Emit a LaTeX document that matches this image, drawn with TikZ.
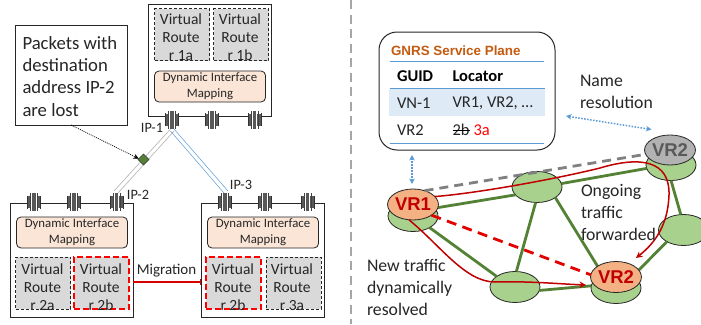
\documentclass[tikz,border=0pt]{standalone}
\usepackage{fontspec}
\setmainfont{Carlito}
\newfontfamily\arialf{Liberation Sans}
\usetikzlibrary{shapes.geometric,arrows.meta,calc}
\definecolor{vrgray}{HTML}{D9D9D9}
\definecolor{dimfill}{HTML}{FBE5D6}
\definecolor{grn}{HTML}{A9D18E}
\definecolor{grnline}{HTML}{548235}
\definecolor{orangef}{HTML}{F4B183}
\definecolor{darkred}{HTML}{C00000}
\definecolor{bl}{HTML}{5B9BD5}
\definecolor{band}{HTML}{DEEAF6}
\definecolor{ttl}{HTML}{C55A11}
\definecolor{txt}{HTML}{262626}
\tikzset{
 x=1pt,y=-1pt,
 every node/.style={text=txt,inner sep=0pt,outer sep=0pt},
 box/.style={draw=black!85,line width=1pt,fill=white,minimum width=123pt,minimum height=#1,anchor=north west},
 vroute/.style={draw=black!85,dash pattern=on 3pt off 2pt,line width=1pt,fill=vrgray,anchor=north west,minimum width=55pt,minimum height=52pt},
 vroutered/.style={draw=red,dash pattern=on 6pt off 3pt,line width=1.8pt,fill=vrgray,anchor=north west,minimum width=55pt,minimum height=52pt},
 vrtext/.style={font=\fontsize{15.5}{18}\selectfont,align=center,text=txt},
 dim/.style={draw=black!85,line width=0.8pt,fill=dimfill,rounded corners=4.5pt,minimum width=111pt,minimum height=31pt,font=\fontsize{12.8}{16}\selectfont,align=center,anchor=north west},
 lbl/.style={font=\fontsize{14.3}{16}\selectfont},
 side/.style={font=\fontsize{17.7}{22}\selectfont,align=left,anchor=west},
 cell/.style={font=\fontsize{16.5}{18}\selectfont,anchor=west},
 green/.style={ellipse,draw=black!85,line width=0.8pt,fill=grn,minimum width=50pt,minimum height=31pt},
 orangeN/.style={ellipse,draw=black!85,line width=0.8pt,fill=orangef,minimum width=50pt,minimum height=31pt,font=\arialf\bfseries\fontsize{18.5}{18}\selectfont,text=darkred},
 grayN/.style={ellipse,draw=black!85,line width=0.8pt,fill=black!30,minimum width=49pt,minimum height=30pt,font=\arialf\bfseries\fontsize{18.5}{18}\selectfont,text=black!65},
 link/.style={draw=grnline,line width=2.8pt},
 route/.style={draw=darkred,line width=1.5pt,-{Stealth[length=6.5pt,width=6.5pt]}},
 bluedot/.style={draw=bl,line width=1.5pt,dash pattern=on 1.5pt off 1.5pt,{Stealth[length=5.5pt,width=5.5pt]}-{Stealth[length=5.5pt,width=5.5pt]}},
 tband/.style={draw=bl,line width=0.9pt},
}
\newcommand{\portpic}[1]{%
 \fill[black!65] ($(#1)+(-6,-6)$) rectangle ($(#1)+(6,6)$);
 \draw[white,line width=1.1pt] ($(#1)+(-2.4,-9)$) -- ($(#1)+(-2.4,9)$);
 \draw[white,line width=1.1pt] ($(#1)+(2.4,-9)$) -- ($(#1)+(2.4,9)$);
 \draw[black!80,line width=0.9pt] ($(#1)+(-6.5,-6.5)$) -- ($(#1)+(-6.5,6.5)$);
 \draw[black!80,line width=0.9pt] ($(#1)+(6.5,-6.5)$) -- ($(#1)+(6.5,6.5)$);
 \fill[black!65] ($(#1)+(-1.6,-9)$) rectangle ($(#1)+(1.6,9)$);
 \draw[black!75,line width=0.8pt] ($(#1)+(-3.6,-9)$) -- ($(#1)+(-3.6,9)$);
 \draw[black!75,line width=0.8pt] ($(#1)+(3.6,-9)$) -- ($(#1)+(3.6,9)$);
}
\begin{document}
\begin{tikzpicture}
\useasboundingbox (0,0) rectangle (701,324);
\fill[white] (0,0) rectangle (701,324);
% divider
\coordinate (divT) at (351,0);
\coordinate (divB) at (351,324);
\draw[black!35,line width=2.6pt,dash pattern=on 9pt off 5.5pt] (divT) -- (divB);

% left: boxes
\node[box=112pt] (top) at (148.5,4.5) {};
\node[box=114pt] (left) at (10,203.5) {};
\node[box=114pt] (right) at (201,203.5) {};

% top box contents
\node[vroute] (r1a) at (154.5,8.5) {};
\node[vroute] (r1b) at (213.5,8.5) {};
\node[vrtext] at (181,37.5) {Virtual\\Route\\r 1a};
\node[vrtext] at (240,37.5) {Virtual\\Route\\r 1b};
\node[dim] (dimt) at (154.5,71) {Dynamic Interface\\Mapping};
% left box contents
\node[dim] (diml) at (16.5,217) {Dynamic Interface\\Mapping};
\node[vroute] (r2a) at (15.5,257) {};
\node[vroutered] (r2b) at (74,257) {};
\node[vrtext] at (42.5,287) {Virtual\\Route\\r 2a};
\node[vrtext] at (101,287) {Virtual\\Route\\r 2b};
% right box contents
\node[dim] (dimr) at (207.5,217) {Dynamic Interface\\Mapping};
\node[vroutered] (r2c) at (206,257) {};
\node[vroute] (r3a) at (266,257) {};
\node[vrtext] at (233,287) {Virtual\\Route\\r 2b};
\node[vrtext] at (292,287) {Virtual\\Route\\r 3a};

% ports
\coordinate (p1) at (172,119.5);
\coordinate (p2) at (212,119.5);
\coordinate (p3) at (254.5,119.5);
\coordinate (p4) at (34,202);
\coordinate (p5) at (74,202);
\coordinate (p6) at (116.5,202);
\coordinate (p7) at (225,202);
\coordinate (p8) at (265,202);
\coordinate (p9) at (307.5,202);

% tunnels
\coordinate (ip1s) at (172,130);
\coordinate (ip2s) at (116,192);
\coordinate (ip3s) at (226,192);
\draw[black!30,line width=0.6pt] ($(ip1s)+(-1.5,-1)$) -- ($(ip2s)+(-2,-1)$);
\draw[black!30,line width=0.6pt] ($(ip1s)+(2,1)$) -- ($(ip2s)+(2,1)$);
\draw[bl,line width=0.5pt] ($(ip1s)+(-1.5,1)$) -- ($(ip3s)+(-2,1)$);
\draw[bl,line width=0.5pt] ($(ip1s)+(2,-1)$) -- ($(ip3s)+(2,-1)$);

\portpic{p1}\portpic{p2}\portpic{p3}
\portpic{p4}\portpic{p5}\portpic{p6}
\portpic{p7}\portpic{p8}\portpic{p9}

\node[lbl] (ip1) at (152,128) {IP-1};
\node[lbl] (ip2) at (138,195) {IP-2};
\node[lbl] (ip3) at (241,185) {IP-3};

% blocked marker
\node[diamond,fill=grnline,draw=black!80,line width=0.4pt,minimum width=11pt,minimum height=11pt] (block) at (143.5,159.5) {};

% callout
\node[draw=black!85,line width=1pt,fill=white,anchor=north west,minimum width=112pt,minimum height=100pt] (call) at (15.5,25) {};
\node[font=\fontsize{18.7}{22.2}\selectfont,align=left,anchor=north west] at (22.5,36.5) {Packets with\\destination\\address IP-2\\are lost};
\coordinate (callfoot) at (71,125);
\draw[black,line width=0.7pt,dash pattern=on 1pt off 1pt,-{Stealth[length=5.5pt,width=5pt]}] (callfoot) -- (block.170);

% migration
\coordinate (migA) at (133,282);
\coordinate (migB) at (200.5,282);
\draw[red!85!black,line width=1.6pt] (migA) -- (migB);
\draw[red!85!black,line width=0.7pt] (200.5,279) -- (200.5,285);
\node[font=\fontsize{15}{16}\selectfont] (mig) at (166.5,271) {Migration};

% GNRS table
\node[draw=black!85,line width=1pt,fill=white,rounded corners=18pt,anchor=north west,minimum width=176pt,minimum height=118pt] (gnrs) at (379,32) {};
\fill[band] (389,88.5) rectangle (545,115.5);
\draw[tband] (389.5,61.5) -- (544,61.5);
\draw[tband] (389.5,88.5) -- (545,88.5);
\draw[tband] (389.5,143.3) -- (544,143.3);
\node[font=\arialf\bfseries\fontsize{13.4}{14}\selectfont,text=ttl,anchor=west] at (391,50.5) {GNRS Service Plane};
\node[font=\bfseries\fontsize{16.5}{18}\selectfont,text=black,anchor=west] at (397,76) {GUID};
\node[font=\bfseries\fontsize{16.5}{18}\selectfont,text=black,anchor=west] at (452.5,76) {Locator};
\node[cell] at (397,103) {VN-1};
\node[cell] at (452.5,103) {VR1, VR2, …};
\node[cell] at (397,130) {VR2};
\node[cell] (old) at (452.5,130) {2b};
\draw[black,line width=0.9pt] (old.west) -- (old.east);
\node[cell,text=red] at (473.5,130) {3a};

\node[side] at (580,92) {Name\\resolution};
\coordinate (nrA) at (566,116);
\coordinate (nrB) at (651.5,129.5);
\draw[bluedot] (nrA) -- (nrB);

% graph
\node[green] (g1) at (413,216) {};
\node[green] (g2) at (537,187) {};
\node[green] (g3) at (671,165) {};
\node[green] (g4) at (683.5,230) {};
\node[green] (g5) at (515,287) {};
\node[green] (g6) at (616,288) {};

\draw[link] (g1.20) -- (g2.200);
\draw[link] (g2.8) -- (g3.188);
\draw[link] (g1.-35) -- (g5.150);
\draw[link] (g2.-95) -- (g5.85);
\draw[link] (g2.-30) -- (g6.135);
\draw[link] (g5.-8) -- (g6.175);
\draw[link] (g3.-90) -- (g4.100);
\draw[link] (g4.215) -- (g6.35);

\node[orangeN] (vr1) at (413,204.5) {VR1};
\node[orangeN] (vr2) at (616,277) {VR2};
\node[grayN] (vr2g) at (670,150) {VR2};

\draw[black!50,line width=2.8pt,dash pattern=on 9pt off 6pt] (vr1.50) -- (vr2g.190);
\draw[red!90!black,line width=2.8pt,dash pattern=on 10pt off 6.5pt] (vr1.-30) -- (vr2.175);

\draw[route] (vr1.20) .. controls (480,193) and (560,178) .. (600,168) .. controls (640,156) and (670,160) .. (669,195) .. controls (668,225) and (655,243) .. (636,258);
\draw[route] (vr1.-105) .. controls (440,245) and (465,282) .. (495,282) .. controls (530,281) and (560,284) .. (586,285);

\coordinate (resA) at (412,155);
\coordinate (resB) at (412,184);
\draw[bluedot] (resA) -- (resB);

\node[side] at (581,212) {Ongoing\\traffic\\forwarded};
\node[side] at (367,287) {New traffic\\dynamically\\resolved};
\end{tikzpicture}
\end{document}
